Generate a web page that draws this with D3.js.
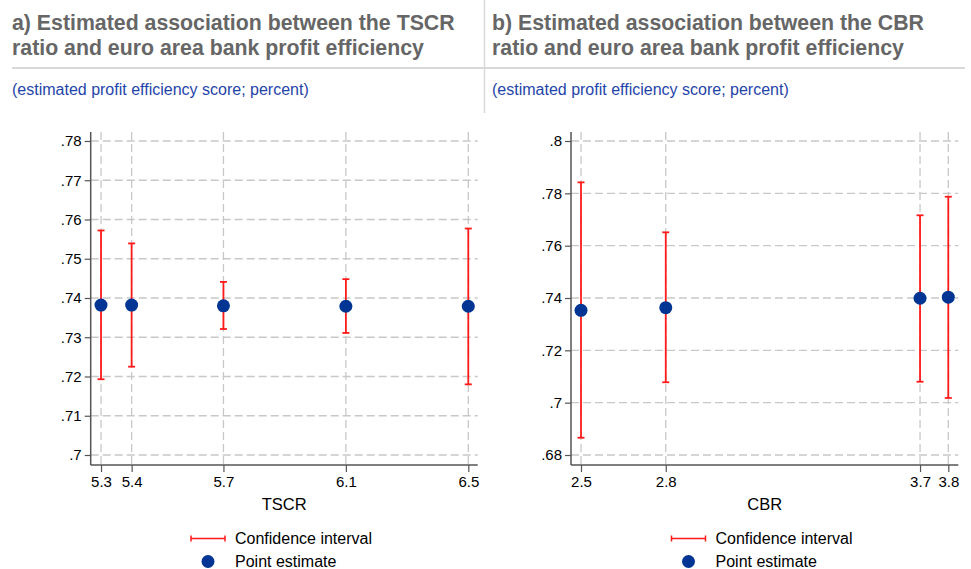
<!DOCTYPE html>
<html>
<head>
<meta charset="utf-8">
<script src="https://cdn.jsdelivr.net/npm/d3@7"></script>
<style>
  body { margin: 0; background: #fff; }
  svg { display: block; font-family: "Liberation Sans", Arial, sans-serif; }
</style>
</head>
<body>
<svg id="chart" width="971" height="569"></svg>
<script>
// ---- Data ----
const titlesA = ["a) Estimated association between the TSCR", "ratio and euro area bank profit efficiency"];
const titlesB = ["b) Estimated association between the CBR", "ratio and euro area bank profit efficiency"];
const subtitle = "(estimated profit efficiency score; percent)";

const tscrX = [5.3, 5.4, 5.7, 6.1, 6.5];
const tscrPoint = [0.7382, 0.7382, 0.7380, 0.7379, 0.7379];
const tscrLow = [0.7193, 0.7225, 0.7321, 0.7311, 0.7180];
const tscrHigh = [0.7572, 0.7539, 0.7441, 0.7448, 0.7577];
const tscrYTicks = [0.70, 0.71, 0.72, 0.73, 0.74, 0.75, 0.76, 0.77, 0.78];
const tscrXTicks = [5.3, 5.4, 5.7, 6.1, 6.5];

const cbrX = [2.5, 2.8, 3.7, 3.8];
const cbrPoint = [0.7353, 0.7363, 0.7399, 0.7403];
const cbrLow = [0.6866, 0.7078, 0.7080, 0.7018];
const cbrHigh = [0.7842, 0.7651, 0.7716, 0.7787];
const cbrYTicks = [0.68, 0.70, 0.72, 0.74, 0.76, 0.78, 0.80];
const cbrXTicks = [2.5, 2.8, 3.7, 3.8];

const legendLabels = ["Confidence interval", "Point estimate"];

// ---- Styles ----
const FONT = "Liberation Sans, Arial, sans-serif";
const titleColor = "#666666";
const subColor = "#1f45a8";
const ciColor = "#ff1a1a";
const dotColor = "#003594";
const gridColor = "#c8c8c8";
const axisColor = "#555555";

const svg = d3.select("#chart");

// header separators
svg.append("line").attr("x1", 484.5).attr("x2", 484.5).attr("y1", 0).attr("y2", 113)
  .attr("stroke", "#d9d9d9").attr("stroke-width", 1.5);
svg.append("line").attr("x1", 12).attr("x2", 965).attr("y1", 68).attr("y2", 68)
  .attr("stroke", "#d9d9d9").attr("stroke-width", 2);

function fmt(v) {
  let s = d3.format(".2f")(v).replace(/0+$/, "").replace(/\.$/, "");
  return s.replace(/^0\./, ".");
}

function panel(cfg) {
  const g = svg.append("g");
  // titles
  cfg.titles.forEach((t, i) => {
    g.append("text").attr("x", cfg.tx).attr("y", 30 + i * 24.5)
      .attr("fill", titleColor).attr("font-weight", "bold").attr("font-size", 21.3)
      .text(t);
  });
  g.append("text").attr("x", cfg.tx).attr("y", 95).attr("fill", subColor)
    .attr("font-size", 16).text(subtitle);

  const x = d3.scaleLinear().domain(cfg.xDomain).range([cfg.left, cfg.right]);
  const y = d3.scaleLinear().domain(cfg.yDomain).range([465, 132]);

  // grid
  g.append("g").selectAll("line").data(cfg.yTicks).join("line")
    .attr("x1", cfg.left).attr("x2", cfg.right)
    .attr("y1", d => y(d)).attr("y2", d => y(d))
    .attr("stroke", gridColor).attr("stroke-width", 1.3).attr("stroke-dasharray", "8,4");
  g.append("g").selectAll("line").data(cfg.xTicks).join("line")
    .attr("x1", d => x(d)).attr("x2", d => x(d))
    .attr("y1", 132).attr("y2", 465)
    .attr("stroke", gridColor).attr("stroke-width", 1.3).attr("stroke-dasharray", "8,4");

  // axes
  const yAxis = d3.axisLeft(y).tickValues(cfg.yTicks).tickFormat(fmt).tickSize(6).tickPadding(3);
  const ya = g.append("g").attr("transform", `translate(${cfg.left},0)`).call(yAxis);
  const xAxis = d3.axisBottom(x).tickValues(cfg.xTicks).tickFormat(d3.format(".1f")).tickSize(7).tickPadding(4);
  const xa = g.append("g").attr("transform", `translate(0,465)`).call(xAxis);
  [ya, xa].forEach(a => {
    a.attr("font-size", 15).attr("font-family", FONT);
    a.select(".domain").attr("stroke", axisColor).attr("stroke-width", 1.5);
    a.selectAll(".tick line").attr("stroke", axisColor).attr("stroke-width", 1.2);
    a.selectAll(".tick text").attr("fill", "#000");
  });
  ya.select(".domain").attr("d", `M0,465V132`);
  xa.select(".domain").attr("d", `M${cfg.left},0H${cfg.right}`);

  g.append("text").attr("x", (cfg.left + cfg.right) / 2).attr("y", 510)
    .attr("text-anchor", "middle").attr("font-size", 16.5).attr("fill", "#000").text(cfg.xLabel);

  // CI
  const idx = d3.range(cfg.xs.length);
  const ci = g.append("g").attr("stroke", ciColor).attr("stroke-width", 1.8);
  ci.selectAll("line.v").data(idx).join("line").attr("class", "v")
    .attr("x1", i => x(cfg.xs[i])).attr("x2", i => x(cfg.xs[i]))
    .attr("y1", i => y(cfg.low[i])).attr("y2", i => y(cfg.high[i]));
  ci.selectAll("line.t").data(idx).join("line").attr("class", "t")
    .attr("x1", i => x(cfg.xs[i]) - 3.5).attr("x2", i => x(cfg.xs[i]) + 3.5)
    .attr("y1", i => y(cfg.high[i])).attr("y2", i => y(cfg.high[i]));
  ci.selectAll("line.b").data(idx).join("line").attr("class", "b")
    .attr("x1", i => x(cfg.xs[i]) - 3.5).attr("x2", i => x(cfg.xs[i]) + 3.5)
    .attr("y1", i => y(cfg.low[i])).attr("y2", i => y(cfg.low[i]));

  g.append("g").selectAll("circle").data(idx).join("circle")
    .attr("cx", i => x(cfg.xs[i])).attr("cy", i => y(cfg.pt[i])).attr("r", 6.5)
    .attr("fill", dotColor);

  // legend
  const lx = cfg.legX;
  const lg = g.append("g");
  lg.append("line").attr("x1", lx).attr("x2", lx + 34).attr("y1", 538.5).attr("y2", 538.5)
    .attr("stroke", ciColor).attr("stroke-width", 1.5);
  [lx, lx + 34].forEach(px => lg.append("line").attr("x1", px).attr("x2", px)
    .attr("y1", 535.5).attr("y2", 541.5).attr("stroke", ciColor).attr("stroke-width", 1.5));
  lg.append("circle").attr("cx", lx + 17).attr("cy", 561.5).attr("r", 6.5).attr("fill", dotColor);
  lg.append("text").attr("x", lx + 44).attr("y", 544).attr("font-size", 16).attr("fill", "#000").text(legendLabels[0]);
  lg.append("text").attr("x", lx + 44).attr("y", 567).attr("font-size", 16).attr("fill", "#000").text(legendLabels[1]);
}

panel({
  titles: titlesA, tx: 12, left: 90.7, right: 477.7,
  xDomain: [5.2663, 6.5307], yDomain: [0.69745, 0.78229],
  xs: tscrX, pt: tscrPoint, low: tscrLow, high: tscrHigh,
  yTicks: tscrYTicks, xTicks: tscrXTicks, xLabel: "TSCR", legX: 191
});
panel({
  titles: titlesB, tx: 492, left: 571, right: 958.3,
  xDomain: [2.4646, 3.8354], yDomain: [0.67618, 0.80344],
  xs: cbrX, pt: cbrPoint, low: cbrLow, high: cbrHigh,
  yTicks: cbrYTicks, xTicks: cbrXTicks, xLabel: "CBR", legX: 671.5
});
</script>
</body>
</html>
